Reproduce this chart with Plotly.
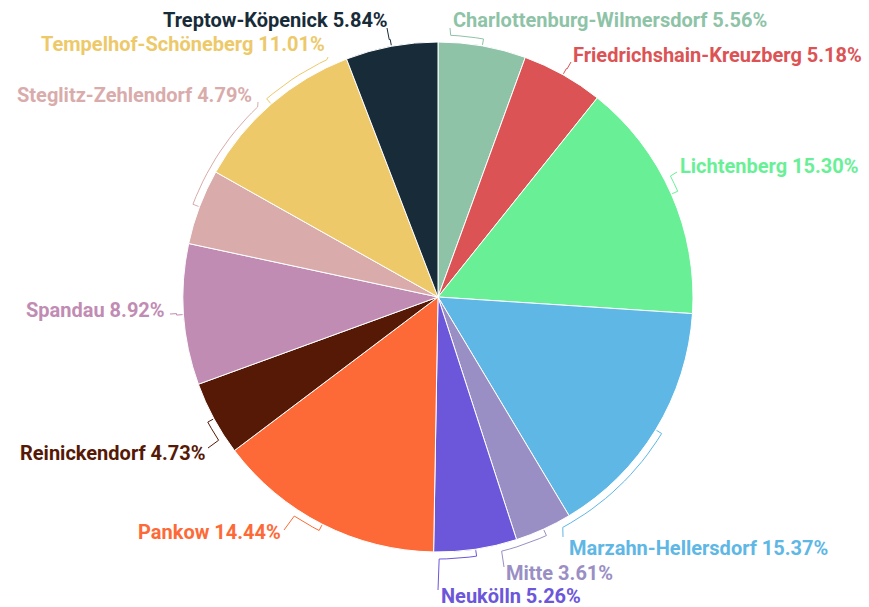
import math
import plotly.graph_objects as go

# ---- data ----
districts = [
    "Charlottenburg-Wilmersdorf", "Friedrichshain-Kreuzberg", "Lichtenberg",
    "Marzahn-Hellersdorf", "Mitte", "Neukölln", "Pankow", "Reinickendorf",
    "Spandau", "Steglitz-Zehlendorf", "Tempelhof-Schöneberg", "Treptow-Köpenick",
]
shares = [5.56, 5.18, 15.30, 15.37, 3.61, 5.26, 14.44, 4.73, 8.92, 4.79, 11.01, 5.84]

# ---- styling ----
colors = ["#8ec3a7", "#dc5356", "#69f097", "#5eb7e5", "#9a8fc4", "#6c56da",
          "#fd6a37", "#561906", "#c18cb3", "#d9acab", "#edc96a", "#172b38"]

W, H = 869, 607
CX, CY, R = 438, 297, 255

# label placement (pixel layout): text anchor x, y, alignment, connector end point
label_layout = [
    (451, 20, "left", 450, 28),
    (571, 55, "left", 571, 62),
    (678, 166, "left", 677, 172),
    (567, 548, "left", 563, 537),
    (504, 573, "left", 504, 567),
    (439, 596, "left", 438, 590),
    (283, 532, "right", 284, 530),
    (208, 453, "right", 208, 448),
    (167, 310, "right", 170, 314),
    (254, 95, "right", 258, 102),
    (327, 44, "right", 328, 57),
    (390, 20, "right", 387, 28),
]

fig = go.Figure()

total = sum(shares)
cum = 0.0
for i, (name, v) in enumerate(zip(districts, shares)):
    mid = (cum + v / 2) / total * 360.0
    cum += v
    tx, ty, align, ex, ey = label_layout[i]
    phi = math.degrees(math.atan2(ex - CX, -(ey - CY))) % 360
    d = (phi - mid + 540) % 360 - 180
    xs, ys = [], []
    r0 = R + 1
    xs.append(CX + r0 * math.sin(math.radians(mid)))
    ys.append(CY - r0 * math.cos(math.radians(mid)))
    r1 = R + 7
    n = max(2, int(abs(d) / 2) + 2)
    for k in range(n):
        a = mid + d * k / (n - 1) * 0.97
        xs.append(CX + r1 * math.sin(math.radians(a)))
        ys.append(CY - r1 * math.cos(math.radians(a)))
    xs.append(ex)
    ys.append(ey)
    fig.add_trace(go.Scatter(x=xs, y=ys, mode="lines",
                             line=dict(color=colors[i], width=1),
                             hoverinfo="skip", showlegend=False))
    fig.add_annotation(
        x=tx, y=ty, xref="x", yref="y", showarrow=False,
        text=f"{name} {v:.2f}%", xanchor=align, yanchor="middle",
        font=dict(family="Roboto", size=20, color=colors[i], weight="bold",
                  shadow="1px 1px 0 #fff, -1px -1px 0 #fff, 1px -1px 0 #fff, -1px 1px 0 #fff"),
    )

fig.add_trace(go.Pie(
    labels=districts, values=shares, sort=False, direction="clockwise",
    rotation=0, marker=dict(colors=colors, line=dict(color="#ffffff", width=1)),
    textinfo="none", hoverinfo="label+percent", showlegend=False,
    domain=dict(x=[(CX - R) / W, (CX + R) / W], y=[1 - (CY + R) / H, 1 - (CY - R) / H]),
))

fig.update_layout(
    width=W, height=H, margin=dict(l=0, r=0, t=0, b=0),
    paper_bgcolor="#ffffff", plot_bgcolor="rgba(0,0,0,0)",
    xaxis=dict(range=[0, W], visible=False, fixedrange=True, domain=[0, 1]),
    yaxis=dict(range=[H, 0], visible=False, fixedrange=True, domain=[0, 1]),
    showlegend=False,
)

fig.write_html("out.html", config={"displayModeBar": False},
               post_script="document.body.style.margin='0';document.body.style.overflow='hidden';")
